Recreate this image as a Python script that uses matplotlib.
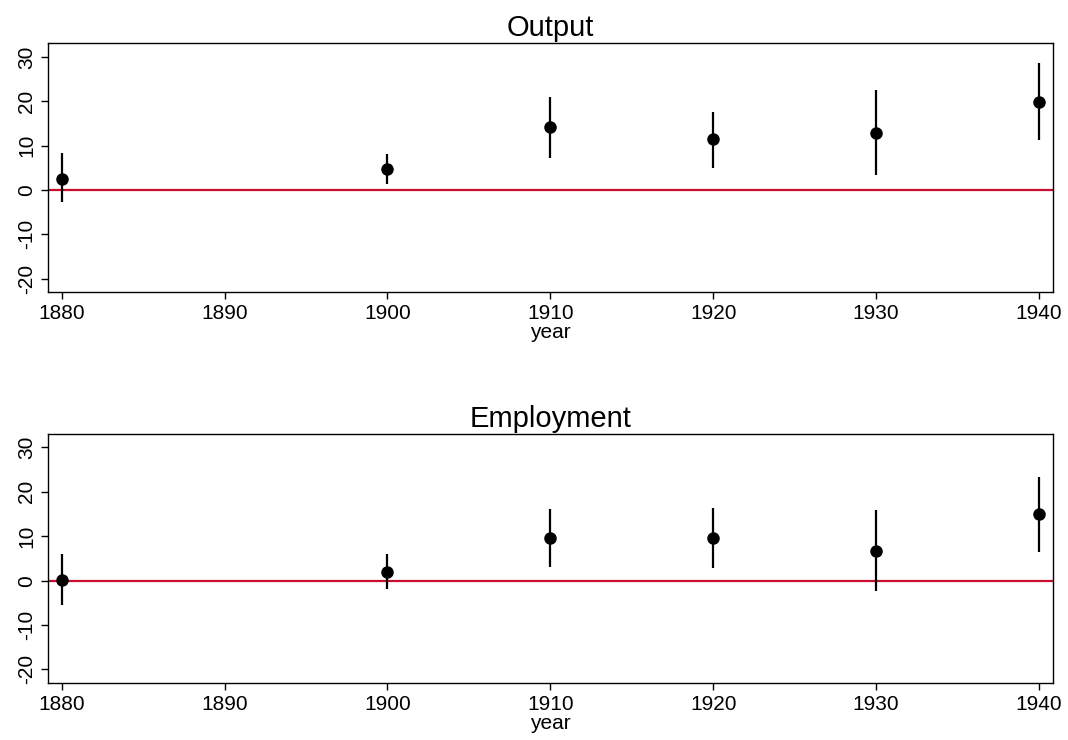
import matplotlib
matplotlib.use("Agg")
import matplotlib.pyplot as plt

plt.rcParams["font.family"] = ["Liberation Sans", "DejaVu Sans"]
plt.rcParams["axes.unicode_minus"] = False

years = [1880, 1900, 1910, 1920, 1930, 1940]

output_est = [2.6, 4.7, 14.2, 11.4, 12.9, 19.9]
output_lo = [-2.7, 1.35, 7.3, 5.0, 3.4, 11.2]
output_hi = [8.3, 8.2, 21.0, 17.6, 22.6, 28.7]

employ_est = [0.15, 2.0, 9.6, 9.6, 6.75, 14.9]
employ_lo = [-5.5, -1.9, 3.0, 2.9, -2.4, 6.45]
employ_hi = [5.9, 5.9, 16.2, 16.3, 15.9, 23.3]

panels = [
    ("Output", output_est, output_lo, output_hi),
    ("Employment", employ_est, employ_lo, employ_hi),
]

fig = plt.figure(figsize=(10.68, 7.4), dpi=100)
boxes = [
    [0.0452, 0.6054, 0.9405, 0.3361],
    [0.0452, 0.0774, 0.9405, 0.3365],
]

for box, (title, est, lo, hi) in zip(boxes, panels):
    ax = fig.add_axes(box)
    ax.axhline(0, color="#c8102e", lw=1.6, zorder=1)
    ax.vlines(years, lo, hi, color="black", lw=1.6, zorder=2)
    ax.plot(years, est, "o", color="black", ms=8, zorder=3)
    ax.set_xlim(1879.18, 1940.84)
    ax.set_ylim(-23, 33.1)
    ax.set_xticks([1880, 1890, 1900, 1910, 1920, 1930, 1940])
    ax.set_yticks([-20, -10, 0, 10, 20, 30])
    ax.tick_params(axis="both", labelsize=15, length=5, width=1)
    for lab in ax.get_yticklabels():
        lab.set_rotation(90)
        lab.set_va("center")
    ax.set_xlabel("year", fontsize=15, labelpad=0)
    ax.set_title(title, fontsize=21, pad=5)
    for s in ax.spines.values():
        s.set_linewidth(1.0)

fig.savefig("out.png", dpi=100)
